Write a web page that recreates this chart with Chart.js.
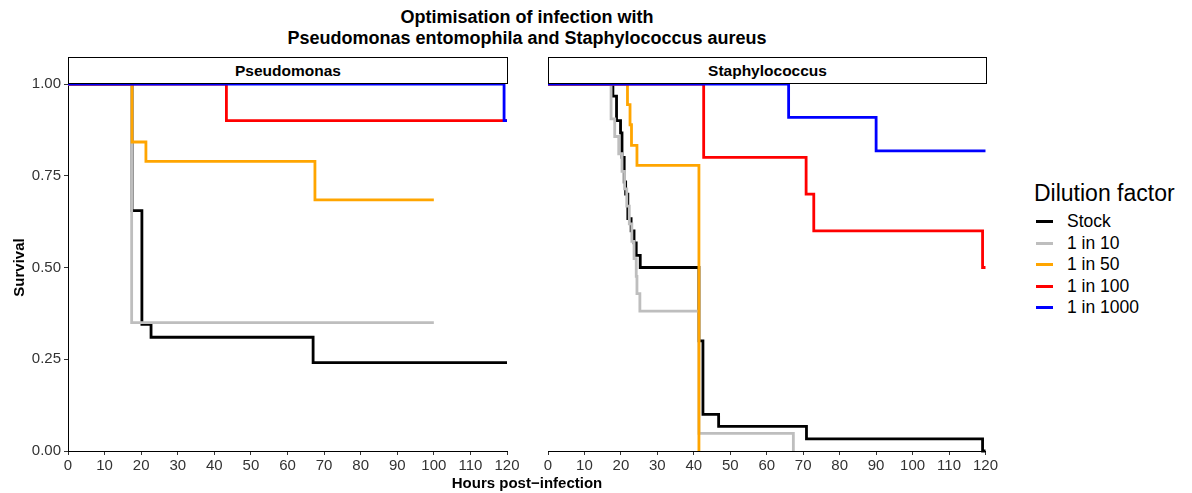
<!DOCTYPE html>
<html>
<head>
<meta charset="utf-8">
<script src="https://cdn.jsdelivr.net/npm/chart.js@4.4.1/dist/chart.umd.min.js"></script>
<style>
body { margin: 0; width: 1192px; height: 493px; background: #fff; position: relative; overflow: hidden;
       font-family: "Liberation Sans", Arial, sans-serif; color: #000; }
.abs { position: absolute; }
#title { left: 68px; width: 918px; top: 7px; text-align: center; font-weight: bold; font-size: 18px; line-height: 21px; }
.strip { top: 57px; height: 27px; box-sizing: border-box; border: 1px solid #000; background: #fff;
         text-align: center; font-weight: bold; font-size: 15.5px; line-height: 25px; }
#xtitle { left: 68px; width: 918px; top: 474px; text-align: center; font-weight: bold; font-size: 15px; line-height: 18px; }
#legend { left: 1034px; top: 179px; }
#legend .ttl { font-size: 23px; line-height: 28px; margin-bottom: 4px; }
#legend .row { position: relative; height: 21.5px; font-size: 17.5px; line-height: 21px; padding-left: 33px; }
#legend .key { position: absolute; left: 2px; top: 9px; width: 17px; height: 3px; }
</style>
</head>
<body>
<div id="title" class="abs">Optimisation of infection with<br>Pseudomonas entomophila and Staphylococcus aureus</div>
<canvas id="c1" class="abs" style="left:0;top:0" width="525" height="493"></canvas>
<canvas id="c2" class="abs" style="left:525px;top:0" width="475" height="493"></canvas>
<div id="s1" class="abs strip" style="left:68px;width:440px"></div>
<div id="s2" class="abs strip" style="left:548px;width:439px"></div>
<div id="xtitle" class="abs">Hours post−infection</div>
<div id="legend" class="abs"></div>
<script>
const groups = ["Stock", "1 in 10", "1 in 50", "1 in 100", "1 in 1000"];
const colours = ["#000000", "#bebebe", "#ffa500", "#ff0000", "#0000ff"];
const panels = ["Pseudomonas", "Staphylococcus"];
const legendTitle = "Dilution factor";

// Pseudomonas: hours, survival
const pseStockT = [0, 17.5, 20.2, 22.7, 67, 120];
const pseStockS = [1, 0.655, 0.345, 0.31, 0.241, 0.241];
const pse10T = [0, 17.4, 100];
const pse10S = [1, 0.35, 0.35];
const pse50T = [0, 17.5, 21.3, 67.5, 100];
const pse50S = [1, 0.842, 0.789, 0.684, 0.684];
const pse100T = [0, 43.3, 120];
const pse100S = [1, 0.9, 0.9];
const pse1000T = [0, 119.2, 120];
const pse1000S = [1, 0.9, 0.9];

// Staphylococcus: hours, survival
const staStockT = [0, 17.8, 18.8, 19.9, 20.3, 20.9, 21.3, 21.9, 22.8, 23.6, 24.2, 25.3, 41.4, 42.5, 46.8, 70.9, 119.2, 120];
const staStockS = [1, 0.967, 0.9, 0.867, 0.8, 0.733, 0.7, 0.633, 0.6, 0.567, 0.533, 0.5, 0.3, 0.1, 0.067, 0.033, 0, 0];
const sta10T = [0, 17.3, 18.3, 19.4, 20.3, 21, 21.6, 22.3, 23, 23.6, 24.2, 24.4, 25.2, 41.4, 67.3];
const sta10S = [1, 0.905, 0.857, 0.81, 0.762, 0.714, 0.667, 0.619, 0.571, 0.524, 0.476, 0.429, 0.381, 0.048, 0];
const sta50T = [0, 21.8, 22.5, 22.9, 24.4, 41.4];
const sta50S = [1, 0.944, 0.889, 0.833, 0.778, 0];
const sta100T = [0, 42.7, 70.8, 72.9, 119.2, 120];
const sta100S = [1, 0.8, 0.7, 0.6, 0.5, 0.5];
const sta1000T = [0, 66, 90, 120];
const sta1000S = [1, 0.909, 0.818, 0.818];

const yTicks = [0, 0.25, 0.5, 0.75, 1];

const fam = "'Liberation Sans', Arial, sans-serif";

function series(T, S, i) {
    return {
        label: groups[i],
        data: T.map((t, k) => ({x: t, y: S[k]})),
        borderColor: colours[i],
        backgroundColor: colours[i],
        borderWidth: 2.8,
        stepped: true,
        pointRadius: 0,
        fill: false,
        clip: false,
        order: groups.length - i
    };
}

function makeChart(id, sets, first) {
    return new Chart(document.getElementById(id), {
        type: "line",
        data: {datasets: sets},
        options: {
            responsive: false,
            animation: false,
            layout: {padding: first ? {top: 84, right: 18, left: 0, bottom: 0} : {top: 84, right: 14, left: 23, bottom: 0}},
            plugins: {legend: {display: false}, tooltip: {enabled: false}},
            scales: {
                x: {
                    type: "linear", min: 0, max: 120,
                    ticks: {stepSize: 10, color: "#333", font: {size: 15, family: fam}, padding: 2, maxRotation: 0, autoSkip: false},
                    grid: {display: true, drawOnChartArea: false, tickLength: 4, color: "#333"},
                    border: {display: true, color: "#000", width: 1},
                    afterFit: s => { s.height = 42; }
                },
                y: {
                    display: first,
                    type: "linear", min: 0, max: 1,
                    afterBuildTicks: s => { s.ticks = yTicks.map(v => ({value: v})); },
                    ticks: {color: "#333", font: {size: 15, family: fam}, padding: 3, callback: v => v.toFixed(2)},
                    grid: {display: true, drawOnChartArea: false, tickLength: 4, color: "#333"},
                    border: {display: true, color: "#000", width: 1},
                    title: {display: true, text: "Survival", color: "#000", font: {size: 15, weight: "bold", family: fam}, padding: {top: 11, bottom: 0}},
                    afterFit: s => { s.width = first ? 68 : 0; }
                }
            }
        }
    });
}

makeChart("c1", [
    series(pseStockT, pseStockS, 0), series(pse10T, pse10S, 1), series(pse50T, pse50S, 2),
    series(pse100T, pse100S, 3), series(pse1000T, pse1000S, 4)
], true);
makeChart("c2", [
    series(staStockT, staStockS, 0), series(sta10T, sta10S, 1), series(sta50T, sta50S, 2),
    series(sta100T, sta100S, 3), series(sta1000T, sta1000S, 4)
], false);

document.getElementById("s1").textContent = panels[0];
document.getElementById("s2").textContent = panels[1];

const leg = document.getElementById("legend");
let html = '<div class="ttl">' + legendTitle + '</div>';
groups.forEach((g, i) => {
    html += '<div class="row"><span class="key" style="background:' + colours[i] + '"></span>' + g + '</div>';
});
leg.innerHTML = html;
</script>
</body>
</html>
